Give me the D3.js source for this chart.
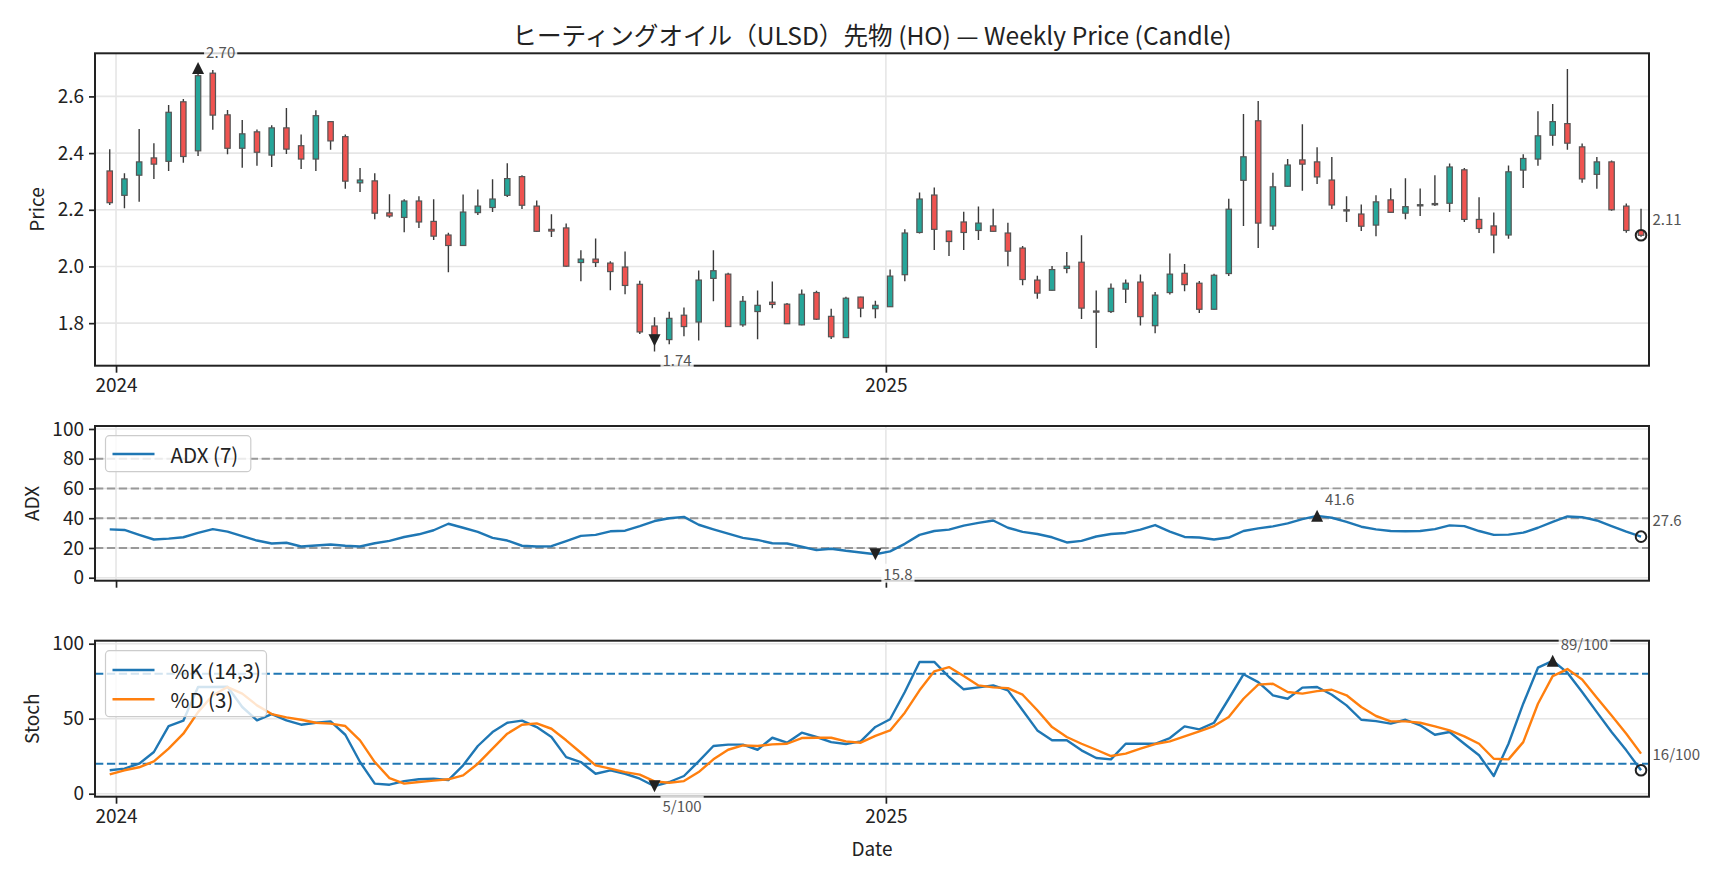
<!DOCTYPE html>
<html><head><meta charset="utf-8">
<script src="https://cdn.jsdelivr.net/npm/d3@7"></script>
<style>
body{margin:0;background:#fff}
svg{display:block}
text{font-family:"Noto Sans CJK JP","Noto Sans",sans-serif;}
</style></head>
<body><svg id="chart" width="1728" height="878"></svg>
<script>
// ---------------- data ----------------
const weekDates = [
"2023-12-29",
"2024-01-05","2024-01-12","2024-01-19","2024-01-26","2024-02-02","2024-02-09","2024-02-16","2024-02-23",
"2024-03-01","2024-03-08","2024-03-15","2024-03-22","2024-03-29","2024-04-05","2024-04-12","2024-04-19","2024-04-26",
"2024-05-03","2024-05-10","2024-05-17","2024-05-24","2024-05-31","2024-06-07","2024-06-14","2024-06-21","2024-06-28",
"2024-07-05","2024-07-12","2024-07-19","2024-07-26","2024-08-02","2024-08-09","2024-08-16","2024-08-23","2024-08-30",
"2024-09-06","2024-09-13","2024-09-20","2024-09-27","2024-10-04","2024-10-11","2024-10-18","2024-10-25",
"2024-11-01","2024-11-08","2024-11-15","2024-11-22","2024-11-29","2024-12-06","2024-12-13","2024-12-20","2024-12-27",
"2025-01-03","2025-01-10","2025-01-17","2025-01-24","2025-01-31","2025-02-07","2025-02-14","2025-02-21","2025-02-28",
"2025-03-07","2025-03-14","2025-03-21","2025-03-28","2025-04-04","2025-04-11","2025-04-18","2025-04-25",
"2025-05-02","2025-05-09","2025-05-16","2025-05-23","2025-05-30","2025-06-06","2025-06-13","2025-06-20","2025-06-27",
"2025-07-04","2025-07-11","2025-07-18","2025-07-25","2025-08-01","2025-08-08","2025-08-15","2025-08-22","2025-08-29",
"2025-09-05","2025-09-12","2025-09-19","2025-09-26","2025-10-03","2025-10-10","2025-10-17","2025-10-24","2025-10-31",
"2025-11-07","2025-11-14","2025-11-21","2025-11-28","2025-12-05","2025-12-12","2025-12-19","2025-12-26"];

const openP = [2.337,2.251,2.322,2.383,2.371,2.581,2.408,2.682,2.535,2.417,2.475,2.393,2.489,2.426,2.379,2.511,2.458,2.295,2.302,2.189,
2.173,2.231,2.159,2.111,2.074,2.190,2.208,2.251,2.317,2.213,2.131,2.136,2.014,2.026,2.012,1.998,1.937,1.790,1.742,1.828,
1.804,1.958,1.973,1.794,1.841,1.874,1.867,1.794,1.908,1.824,1.749,1.892,1.851,1.858,1.971,2.120,2.252,2.125,2.157,2.127,
2.143,2.118,2.065,1.952,1.916,1.993,2.015,1.843,1.841,1.920,1.945,1.791,1.908,1.976,1.941,1.849,1.975,2.304,2.514,2.143,
2.283,2.376,2.369,2.305,2.200,2.185,2.146,2.235,2.188,2.215,2.219,2.223,2.341,2.166,2.143,2.111,2.340,2.379,2.463,2.504,
2.422,2.325,2.369,2.213,2.127];
const highP = [2.414,2.329,2.485,2.435,2.570,2.591,2.702,2.693,2.552,2.517,2.483,2.498,2.559,2.466,2.551,2.513,2.466,2.347,2.329,2.255,
2.237,2.248,2.237,2.119,2.254,2.272,2.308,2.364,2.322,2.233,2.184,2.152,2.057,2.099,2.018,2.053,1.950,1.821,1.840,1.855,
1.986,2.057,1.978,1.896,1.915,1.947,1.871,1.919,1.914,1.851,1.893,1.893,1.879,1.989,2.131,2.261,2.279,2.126,2.193,2.212,
2.204,2.154,2.072,1.967,2.002,2.051,2.110,1.915,1.940,1.954,1.972,1.910,2.046,2.009,1.949,1.974,2.239,2.538,2.584,2.331,
2.379,2.502,2.421,2.386,2.248,2.219,2.251,2.276,2.311,2.275,2.322,2.363,2.347,2.244,2.190,2.356,2.396,2.548,2.573,2.697,
2.434,2.386,2.374,2.222,2.204];
const lowP = [2.217,2.205,2.228,2.309,2.337,2.366,2.390,2.482,2.396,2.348,2.355,2.351,2.397,2.344,2.337,2.412,2.274,2.263,2.167,2.172,
2.121,2.136,2.093,1.980,2.072,2.182,2.192,2.245,2.203,2.122,2.104,1.999,1.948,1.998,1.916,1.902,1.762,1.700,1.726,1.754,
1.739,1.877,1.786,1.787,1.743,1.853,1.797,1.793,1.811,1.744,1.748,1.821,1.817,1.857,1.948,2.116,2.058,2.037,2.058,2.093,
2.123,2.001,1.934,1.886,1.915,1.976,1.815,1.712,1.836,1.871,1.792,1.764,1.901,1.913,1.836,1.848,1.966,2.143,2.065,2.129,
2.282,2.267,2.291,2.203,2.157,2.125,2.107,2.190,2.167,2.178,2.213,2.192,2.157,2.118,2.047,2.098,2.277,2.355,2.426,2.412,
2.295,2.274,2.197,2.119,2.105];
const closeP = [2.225,2.309,2.369,2.361,2.544,2.388,2.673,2.534,2.417,2.468,2.403,2.489,2.414,2.379,2.532,2.443,2.301,2.305,2.188,2.178,
2.231,2.157,2.107,2.074,2.192,2.213,2.238,2.310,2.216,2.124,2.125,2.001,2.026,2.014,1.982,1.933,1.769,1.759,1.817,1.788,
1.952,1.985,1.788,1.877,1.863,1.866,1.798,1.902,1.814,1.752,1.888,1.853,1.863,1.966,2.118,2.238,2.131,2.088,2.120,2.153,
2.124,2.054,1.954,1.906,1.989,2.001,1.853,1.840,1.923,1.941,1.823,1.899,1.973,1.936,1.849,1.969,2.202,2.387,2.153,2.281,
2.358,2.361,2.316,2.217,2.198,2.142,2.228,2.191,2.211,2.218,2.222,2.351,2.166,2.134,2.111,2.334,2.381,2.461,2.511,2.435,
2.309,2.369,2.200,2.127,2.110];

const adx7 = [32.5,32.1,28.8,25.7,26.3,27.2,30.1,32.7,31.0,27.9,25.0,23.0,23.5,21.0,21.7,22.3,21.5,21.0,23.2,24.8,
27.4,29.2,31.9,36.3,33.6,30.8,26.8,25.0,21.5,21.0,21.2,24.6,28.1,28.8,31.2,31.6,34.7,38.1,40.0,40.9,
35.6,32.5,29.6,26.8,25.4,23.2,23.0,20.8,18.6,19.5,18.1,17.0,15.8,17.7,22.8,28.8,31.4,32.3,35.0,36.9,
38.5,33.6,30.8,29.4,27.2,23.7,24.8,27.7,29.4,30.1,32.3,35.4,31.0,27.4,27.0,25.7,27.0,31.4,33.2,34.5,
36.5,39.4,41.6,40.3,37.6,34.3,32.5,31.4,31.2,31.4,32.7,35.2,34.7,31.4,28.8,29.0,30.3,33.6,37.6,41.2,
40.7,38.5,34.7,31.0,27.6];

const stochK = [15.6,16.7,20.0,27.8,45.1,48.7,71.1,71.1,71.3,57.8,48.9,53.1,48.9,46.0,47.3,48.2,39.3,21.1,6.7,6.0,
8.4,9.6,10.0,9.1,18.9,31.8,41.1,47.3,48.7,44.4,37.8,24.4,21.1,13.3,15.6,13.3,10.0,5.0,7.8,11.8,
21.6,31.8,32.7,32.7,29.3,37.3,34.0,40.7,37.8,34.4,33.1,34.9,44.5,49.6,67.8,87.8,87.9,77.8,69.6,70.9,
72.2,68.9,55.6,42.2,35.6,35.6,28.9,23.8,22.9,33.3,33.3,33.3,37.1,44.9,42.9,47.3,63.3,79.6,74.4,65.6,
63.3,70.7,71.1,66.0,58.9,49.3,48.4,46.7,49.3,45.6,39.3,41.1,33.3,25.6,11.8,33.3,60.0,84.0,88.6,80.7,
67.8,54.4,41.1,28.9,15.6];
const stochD = [12.9,15.6,17.6,21.6,30.0,40.0,54.4,65.6,71.1,66.7,58.9,53.1,50.9,49.3,47.3,46.7,45.1,35.6,21.1,10.4,
6.7,7.8,8.7,9.6,12.2,20.0,30.0,40.0,46.0,46.9,43.3,35.6,27.3,18.9,16.7,14.4,12.7,8.2,7.3,8.4,
14.4,22.9,29.3,32.2,31.8,32.9,33.3,37.1,37.3,37.3,34.9,34.0,38.5,42.2,54.0,68.9,81.6,84.4,78.4,72.2,
70.9,70.4,66.0,55.6,44.4,37.8,33.3,29.3,25.1,26.7,30.0,33.1,34.9,38.2,41.6,45.1,51.1,63.3,72.7,73.3,
67.8,66.7,68.4,69.3,65.6,57.8,51.8,48.2,48.2,47.3,44.9,42.2,38.2,33.3,23.3,22.9,34.4,60.0,78.4,83.1,
76.2,64.0,52.2,40.0,26.7];

const priceTicks = [1.8, 2.0, 2.2, 2.4, 2.6];
const adxTicks = [0, 20, 40, 60, 80, 100];
const stochTicks = [0, 50, 100];
const xTickDates = ["2024-01-01", "2025-01-01"];
const xTickLabels = ["2024", "2025"];
const adxRefLevels = [20, 40, 60, 80];
const stochRefLevels = [20, 80];

const titleText = "ヒーティングオイル（ULSD）先物 (HO) — Weekly Price (Candle)";
const priceNotes = [{i: 6, v: 2.70, label: "2.70", kind: "up"}, {i: 37, v: 1.74, label: "1.74", kind: "down"}, {i: 104, v: 2.11, label: "2.11", kind: "last"}];
const adxNotes = [{i: 52, v: 15.8, label: "15.8", kind: "down"}, {i: 82, v: 41.6, label: "41.6", kind: "up"}, {i: 104, v: 27.6, label: "27.6", kind: "last"}];
const stochNotes = [{i: 37, v: 5.0, label: "5/100", kind: "down"}, {i: 98, v: 88.6, label: "89/100", kind: "up"}, {i: 104, v: 15.6, label: "16/100", kind: "last"}];

// ---------------- layout ----------------
const FONT = '"Noto Sans CJK JP","Noto Sans",sans-serif';
const C = {up: "#26a69a", down: "#ef5350", edge: "#555555", wick: "#3a3a3a", frame: "#222222",
  grid: "#e6e6e6", blue: "#1f77b4", orange: "#ff7f0e", ref: "#999999", text: "#222222", note: "#555555"};
const L = 95, R = 1649;
const P1 = {top: 53.3, bottom: 365.7};
const P2 = {top: 426, bottom: 580.7};
const P3 = {top: 640.7, bottom: 796.7};
const TICK_FS = 19, LABEL_FS = 19, TITLE_FS = 24.6, NOTE_FS = 15, LEG_FS = 20.5;

const parse = d3.utcParse("%Y-%m-%d");
const dates = weekDates.map(parse);
const x = d3.scaleUtc()
  .domain([d3.utcDay.offset(dates[0], -7), d3.utcHour.offset(dates[dates.length - 1], 91)])
  .range([L, R]);
const xTicks = xTickDates.map(parse);

const pMin = d3.min(lowP), pMax = d3.max(highP), pPad = (pMax - pMin) * 0.05;
const yP = d3.scaleLinear().domain([pMin - pPad, pMax + pPad]).range([P1.bottom, P1.top]);
const yA = d3.scaleLinear().domain([-2, 102]).range([P2.bottom, P2.top]);
const yS = d3.scaleLinear().domain([-2, 102]).range([P3.bottom, P3.top]);

const svg = d3.select("#chart");
svg.append("rect").attr("width", 1728).attr("height", 878).attr("fill", "#fff");

function clip(id, P) {
  svg.append("clipPath").attr("id", id).append("rect")
    .attr("x", L).attr("y", P.top).attr("width", R - L).attr("height", P.bottom - P.top);
}
clip("c1", P1); clip("c2", P2); clip("c3", P3);

function grid(P, y, yTicks) {
  const g = svg.append("g");
  g.selectAll(".gy").data(yTicks).join("line")
    .attr("x1", L).attr("x2", R).attr("y1", d => y(d)).attr("y2", d => y(d))
    .attr("stroke", C.grid).attr("stroke-width", 1.6);
  g.selectAll(".gx").data(xTicks).join("line")
    .attr("x1", d => x(d)).attr("x2", d => x(d)).attr("y1", P.top).attr("y2", P.bottom)
    .attr("stroke", C.grid).attr("stroke-width", 1.6);
}

function axes(P, y, yTicks, yFmt, showXLabels, yLabel, labelX) {
  const ya = d3.axisLeft(y).tickValues(yTicks).tickFormat(yFmt).tickSize(6).tickPadding(5);
  const gy = svg.append("g").attr("transform", `translate(${L},0)`).call(ya);
  gy.select(".domain").remove();
  gy.selectAll("line").attr("stroke", C.frame).attr("stroke-width", 1.7);
  gy.selectAll("text").attr("font-size", TICK_FS).attr("font-family", FONT).attr("fill", C.text);
  const xa = d3.axisBottom(x).tickValues(xTicks).tickSize(7).tickPadding(6)
    .tickFormat((d, i) => showXLabels ? xTickLabels[i] : "");
  const gx = svg.append("g").attr("transform", `translate(0,${P.bottom})`).call(xa);
  gx.select(".domain").remove();
  gx.selectAll("line").attr("stroke", C.frame).attr("stroke-width", 1.7);
  gx.selectAll("text").attr("font-size", TICK_FS).attr("font-family", FONT).attr("fill", C.text);
  svg.append("text").attr("transform", `translate(${labelX},${(P.top + P.bottom) / 2}) rotate(-90)`)
    .attr("text-anchor", "middle").attr("dominant-baseline", "central")
    .attr("font-size", LABEL_FS).attr("fill", C.text).text(yLabel);
}

function frame(P) {
  svg.append("rect").attr("x", L).attr("y", P.top).attr("width", R - L).attr("height", P.bottom - P.top)
    .attr("fill", "none").attr("stroke", C.frame).attr("stroke-width", 2);
}

function triPath(kind) {
  const s = 6;
  return kind === "up" ? `M0,${-s}L${s},${s}L${-s},${s}Z` : `M0,${s}L${s},${-s}L${-s},${-s}Z`;
}

function notes(list, y) {
  list.forEach(n => {
    const cx = x(dates[n.i]), cy = y(n.v);
    let tx, ty;
    if (n.kind === "last") {
      svg.append("circle").attr("cx", cx).attr("cy", cy).attr("r", 5.3)
        .attr("fill", "none").attr("stroke", C.frame).attr("stroke-width", 2);
      tx = cx + 11.5; ty = cy - 17;
    } else {
      svg.append("path").attr("d", triPath(n.kind)).attr("transform", `translate(${cx},${cy})`).attr("fill", C.frame);
      tx = cx + 8; ty = n.kind === "up" ? cy - 17 : cy + 19;
    }
    const g = svg.append("g");
    const t = g.append("text").attr("x", tx).attr("y", ty).attr("dominant-baseline", "central")
      .attr("font-size", NOTE_FS).attr("fill", C.note).text(n.label);
    const bb = t.node().getBBox();
    g.insert("rect", "text").attr("x", bb.x - 2).attr("y", bb.y + 1).attr("width", bb.width + 4).attr("height", bb.height - 2)
      .attr("fill", "#fff").attr("fill-opacity", 0.8);
  });
}

function legend(x0, y0, w, h, items) {
  const g = svg.append("g");
  g.append("rect").attr("x", x0).attr("y", y0).attr("width", w).attr("height", h).attr("rx", 4)
    .attr("fill", "#fff").attr("fill-opacity", 0.8).attr("stroke", "#cccccc").attr("stroke-width", 1.2);
  items.forEach(it => {
    g.append("line").attr("x1", x0 + 7).attr("x2", x0 + 49).attr("y1", it.y).attr("y2", it.y)
      .attr("stroke", it.color).attr("stroke-width", 2.6);
    g.append("text").attr("x", x0 + 65).attr("y", it.y).attr("dominant-baseline", "central")
      .attr("font-size", LEG_FS).attr("fill", C.text).text(it.label);
  });
}

// ---------------- title ----------------
svg.append("text").attr("x", (L + R) / 2).attr("y", 34).attr("text-anchor", "middle").attr("dominant-baseline", "central")
  .attr("font-size", TITLE_FS).attr("fill", C.text).text(titleText);

// ---------------- panel 1: candles ----------------
grid(P1, yP, priceTicks);
const bodyW = 5.4;
const candles = svg.append("g").attr("clip-path", "url(#c1)");
const idx = d3.range(dates.length);
candles.selectAll(".wick").data(idx).join("line")
  .attr("x1", i => x(dates[i])).attr("x2", i => x(dates[i]))
  .attr("y1", i => yP(highP[i])).attr("y2", i => yP(lowP[i]))
  .attr("stroke", C.wick).attr("stroke-width", 1.4);
candles.selectAll(".body").data(idx).join("rect")
  .attr("x", i => x(dates[i]) - bodyW / 2)
  .attr("y", i => yP(Math.max(openP[i], closeP[i])))
  .attr("width", bodyW)
  .attr("height", i => Math.max(1.2, Math.abs(yP(openP[i]) - yP(closeP[i]))))
  .attr("fill", i => closeP[i] >= openP[i] ? C.up : C.down)
  .attr("stroke", C.edge).attr("stroke-width", 1.2);
frame(P1);
axes(P1, yP, priceTicks, d3.format(".1f"), true, "Price", 35.5);
notes(priceNotes, yP);

// ---------------- panel 2: ADX ----------------
grid(P2, yA, adxTicks);
svg.append("g").selectAll("line").data(adxRefLevels).join("line")
  .attr("x1", L).attr("x2", R).attr("y1", d => yA(d)).attr("y2", d => yA(d))
  .attr("stroke", C.ref).attr("stroke-width", 2).attr("stroke-dasharray", "8.3,3.6");
const lineA = d3.line().x((d, i) => x(dates[i])).y(d => yA(d));
svg.append("path").datum(adx7).attr("clip-path", "url(#c2)").attr("d", lineA)
  .attr("fill", "none").attr("stroke", C.blue).attr("stroke-width", 2.4).attr("stroke-linejoin", "round");
legend(105.5, 435.7, 145.3, 36, [{y: 454, color: C.blue, label: "ADX (7)"}]);
frame(P2);
axes(P2, yA, adxTicks, d3.format("d"), false, "ADX", 30);
notes(adxNotes, yA);

// ---------------- panel 3: Stochastic ----------------
grid(P3, yS, stochTicks);
svg.append("g").selectAll("line").data(stochRefLevels).join("line")
  .attr("x1", L).attr("x2", R).attr("y1", d => yS(d)).attr("y2", d => yS(d))
  .attr("stroke", C.blue).attr("stroke-width", 2).attr("stroke-dasharray", "8.3,3.6");
const lineS = d3.line().x((d, i) => x(dates[i])).y(d => yS(d));
svg.append("path").datum(stochK).attr("clip-path", "url(#c3)").attr("d", lineS)
  .attr("fill", "none").attr("stroke", C.blue).attr("stroke-width", 2.4).attr("stroke-linejoin", "round");
svg.append("path").datum(stochD).attr("clip-path", "url(#c3)").attr("d", lineS)
  .attr("fill", "none").attr("stroke", C.orange).attr("stroke-width", 2.4).attr("stroke-linejoin", "round");
legend(105.5, 650.7, 161, 66, [{y: 670, color: C.blue, label: "%K (14,3)"}, {y: 699.3, color: C.orange, label: "%D (3)"}]);
frame(P3);
axes(P3, yS, stochTicks, d3.format("d"), true, "Stoch", 30);
notes(stochNotes, yS);

svg.append("text").attr("x", (L + R) / 2).attr("y", 847).attr("text-anchor", "middle").attr("dominant-baseline", "central")
  .attr("font-size", LABEL_FS).attr("fill", C.text).text("Date");
</script>
</body></html>
